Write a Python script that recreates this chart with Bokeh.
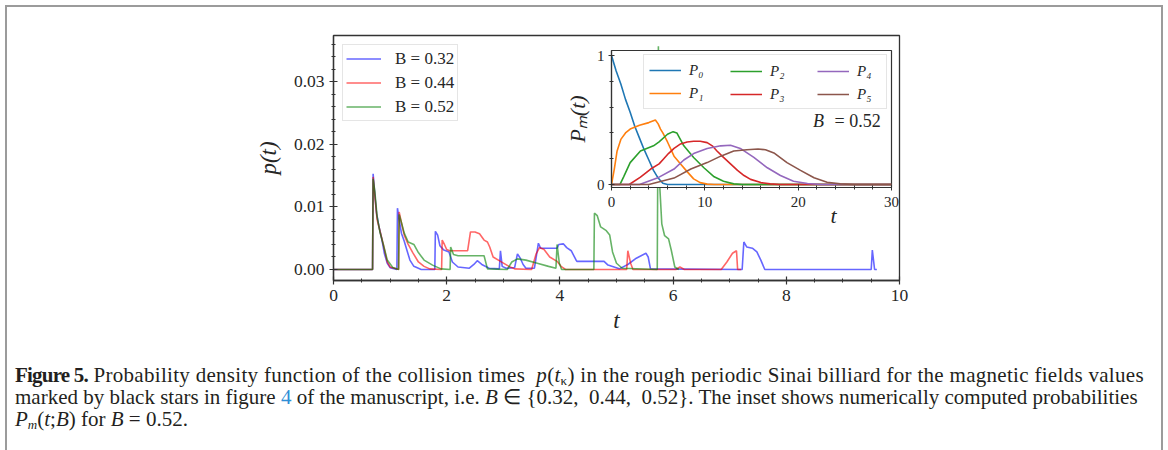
from bokeh.plotting import figure
from bokeh.models import (Range1d, FixedTicker, PrintfTickFormatter, Legend,
                          LegendItem, Label, Div)
from bokeh.layouts import column
from bokeh.embed import file_html
from bokeh.resources import INLINE

FONT = "Liberation Serif"

# ---------------- main panel data: p(t) for three magnetic fields ----------------
t_032 = [0, 0.69, 0.70, 0.73, 0.76, 0.80, 0.85, 0.90, 0.95, 1.00, 1.12, 1.13, 1.16, 1.20,
         1.25, 1.30, 1.35, 1.42, 1.55, 1.79, 1.80, 1.84, 1.88, 1.95, 2.04, 2.10, 2.20,
         2.40, 2.48, 2.54, 2.62, 2.75, 2.93, 2.95, 2.98, 3.05, 3.20, 3.25, 3.30, 3.35,
         3.40, 3.55, 3.62, 3.66, 3.95, 3.98, 4.06, 4.12, 4.20, 4.28, 4.30, 4.78, 4.85,
         5.05, 5.20, 5.35, 5.52, 5.56, 5.60, 7.22, 7.25, 7.30, 7.40, 7.48, 7.55, 7.62,
         9.50, 9.52, 9.56, 9.60]
p_032 = [0, 0, 0.0153, 0.0120, 0.0090, 0.0070, 0.0050, 0.0025, 0.0010, 0.0003, 0.0, 0.0098,
         0.0080, 0.0058, 0.0045, 0.0030, 0.0015, 0.0005, 0.0, 0.0, 0.0061, 0.0055, 0.0038,
         0.0031, 0.0028, 0.0012, 0.0004, 0.0002, 0.0008, 0.0014, 0.0008, 0.0002, 0.0001,
         0.0030, 0.0005, 0.0002, 0.0003, 0.0025, 0.0018, 0.0008, 0.0002, 0.0002, 0.0042,
         0.0034, 0.0034, 0.0040, 0.0041, 0.0035, 0.0030, 0.0016, 0.0013, 0.0013, 0.0007,
         0.0001, 0.0008, 0.0018, 0.0026, 0.0020, 0.0001, 0.0, 0.0044, 0.0036, 0.0034,
         0.0028, 0.0015, 0.0, 0.0, 0.0031, 0.0, 0.0]

t_044 = [0, 0.69, 0.70, 0.73, 0.77, 0.82, 0.88, 0.95, 1.00, 1.15, 1.16, 1.20, 1.25, 1.32,
         1.40, 1.50, 1.60, 1.70, 1.91, 1.92, 1.96, 2.00, 2.05, 2.37, 2.42, 2.50, 2.58,
         2.66, 2.72, 2.76, 2.82, 2.95, 3.10, 3.20, 3.50, 3.58, 3.64, 3.72, 3.82, 3.95,
         4.02, 4.10, 5.18, 5.20, 5.25, 5.29, 6.05, 6.12, 6.20, 6.85, 6.95, 7.05, 7.12,
         7.14, 7.20]
p_044 = [0, 0, 0.0148, 0.0118, 0.0080, 0.0062, 0.0040, 0.0012, 0.0004, 0.0, 0.0092, 0.0075,
         0.0055, 0.0040, 0.0027, 0.0012, 0.0005, 0.0001, 0.0, 0.0047, 0.0040, 0.0032,
         0.0030, 0.0030, 0.0060, 0.0060, 0.0057, 0.0047, 0.0044, 0.0036, 0.0020, 0.0013,
         0.0005, 0.0001, 0.0, 0.0025, 0.0035, 0.0032, 0.0020, 0.0013, 0.0005, 0.0, 0.0,
         0.0030, 0.0010, 0.0, 0.0, 0.0004, 0.0, 0.0, 0.0012, 0.0026, 0.0030, 0.0, 0.0]

t_052 = [0, 0.69, 0.70, 0.73, 0.77, 0.82, 0.88, 0.95, 1.05, 1.15, 1.16, 1.20, 1.25, 1.32,
         1.42, 1.50, 1.60, 1.75, 1.90, 2.06, 2.07, 2.12, 2.20, 2.66, 2.72, 3.07, 3.15,
         3.25, 3.40, 3.60, 3.80, 3.93, 3.95, 3.99, 4.03, 4.60, 4.61, 4.66, 4.72, 4.82,
         4.88, 4.93, 5.00, 5.10, 5.72, 5.74, 5.76, 5.80, 5.85, 5.92, 5.97, 6.03, 6.10]
p_052 = [0, 0, 0.0145, 0.0125, 0.0085, 0.0060, 0.0040, 0.0015, 0.0003, 0.0, 0.0088, 0.0075,
         0.0058, 0.0044, 0.0040, 0.0027, 0.0015, 0.0007, 0.0001, 0.0, 0.0036, 0.0024,
         0.0022, 0.0022, 0.0001, 0.0, 0.0012, 0.0017, 0.0015, 0.0010, 0.0005, 0.0002,
         0.0040, 0.0010, 0.0, 0.0, 0.0090, 0.0086, 0.0068, 0.0062, 0.0055, 0.0028, 0.0010,
         0.0002, 0.0, 0.0357, 0.0140, 0.0073, 0.0054, 0.0049, 0.0030, 0.0004, 0.0]

series_labels = ["B = 0.32", "B = 0.44", "B = 0.52"]
x_ticks = [0, 2, 4, 6, 8, 10]
y_ticks = [0.0, 0.01, 0.02, 0.03]

# ---------------- inset data: P_m(t; B=0.52) ----------------
t_P0 = [0, 0.5, 1, 1.5, 2, 2.5, 3, 3.5, 4, 4.5, 5, 5.5, 6, 30]
v_P0 = [1.0, 0.88, 0.78, 0.66, 0.56, 0.45, 0.36, 0.27, 0.19, 0.11, 0.05, 0.01, 0.0, 0.0]
t_P1 = [0, 0.3, 0.6, 1, 1.5, 2, 3, 4, 4.7, 5.0, 5.25, 5.5, 6, 6.7, 7.4, 8.1, 8.8, 9.5,
        10.25, 11, 30]
v_P1 = [0, 0.12, 0.26, 0.35, 0.40, 0.43, 0.46, 0.48, 0.50, 0.47, 0.43, 0.40, 0.33, 0.22,
        0.16, 0.10, 0.044, 0.015, 0.003, 0, 0]
t_P2 = [0, 0.9, 1.3, 2, 3.1, 4.5, 5.1, 6, 6.6, 7, 7.75, 8.8, 9.9, 11, 12, 13.1, 14, 30]
v_P2 = [0, 0, 0.06, 0.17, 0.26, 0.30, 0.33, 0.39, 0.41, 0.40, 0.30, 0.21, 0.13, 0.06,
        0.026, 0.005, 0, 0]
t_P3 = [0, 1.9, 3.1, 4.2, 5.1, 5.6, 6.1, 6.7, 7.4, 8.1, 8.8, 9.5, 10.25, 10.8, 11.3, 12,
        12.75, 13.5, 14.2, 14.9, 16, 17, 18, 30]
v_P3 = [0, 0, 0.057, 0.12, 0.16, 0.20, 0.24, 0.28, 0.315, 0.33, 0.335, 0.335, 0.325, 0.30,
        0.26, 0.21, 0.16, 0.11, 0.07, 0.04, 0.015, 0.005, 0, 0]
t_P4 = [0, 3, 4.9, 6.7, 7.75, 8.8, 10.25, 11.7, 12.75, 13.8, 15.25, 16.7, 18.1, 19.5, 21,
        22.4, 30]
v_P4 = [0, 0, 0.05, 0.12, 0.19, 0.24, 0.28, 0.30, 0.305, 0.28, 0.21, 0.13, 0.07, 0.026,
        0.008, 0, 0]
t_P5 = [0, 4, 6.7, 8.5, 10.25, 11.7, 13.1, 14.5, 15.7, 16.5, 17.4, 18.8, 20.25, 21.7, 23.1,
        24.5, 26, 30]
v_P5 = [0, 0, 0.05, 0.12, 0.17, 0.22, 0.26, 0.27, 0.275, 0.27, 0.245, 0.17, 0.11, 0.052,
        0.018, 0.005, 0, 0]
inset_labels = ["P₀", "P₁", "P₂", "P₃", "P₄", "P₅"]
inset_x_ticks = [0, 10, 20, 30]
inset_y_ticks = [0, 1]

AX = "#333333"
TXT = "#262626"

# ---------------- main figure ----------------
p = figure(width=1168, height=345, x_range=Range1d(0, 10), y_range=Range1d(-0.00176, 0.0374),
           output_backend="svg", toolbar_location=None,
           min_border_left=333, min_border_right=269, min_border_top=35, min_border_bottom=65)
p.grid.visible = False
p.outline_line_color = AX
p.outline_line_width = 1.3
p.background_fill_color = "white"
p.border_fill_color = "white"

r1 = p.line(t_032, p_032, line_color="#0000ff", line_alpha=0.6, line_width=1.6)
r2 = p.line(t_044, p_044, line_color="#ff0000", line_alpha=0.6, line_width=1.6)
r3 = p.line(t_052, p_052, line_color="#008000", line_alpha=0.6, line_width=1.6)

p.xaxis.ticker = FixedTicker(ticks=x_ticks, minor_ticks=[i * 0.5 for i in range(21)])
p.yaxis.ticker = FixedTicker(ticks=y_ticks, minor_ticks=[i * 0.002 for i in range(19)])
p.yaxis.formatter = PrintfTickFormatter(format="%.2f")
p.xaxis.axis_label = "t"
p.yaxis.axis_label = "p(t)"
for ax in (p.xaxis[0], p.yaxis[0]):
    ax.axis_line_color = AX
    ax.axis_line_width = 1.3
    ax.major_tick_line_color = AX
    ax.minor_tick_line_color = AX
    ax.major_tick_line_width = 1.2
    ax.minor_tick_line_width = 1.0
    ax.major_tick_in = 4
    ax.major_tick_out = 4
    ax.minor_tick_in = 2
    ax.minor_tick_out = 2
    ax.major_label_text_font = FONT
    ax.major_label_text_font_size = "17.5px"
    ax.major_label_text_color = TXT
    ax.axis_label_text_font = FONT
    ax.axis_label_text_font_style = "italic"
    ax.axis_label_text_font_size = "23px"
    ax.axis_label_text_color = TXT
p.xaxis.major_label_standoff = 5
p.xaxis.axis_label_standoff = 4
p.yaxis.major_label_standoff = 5
p.yaxis.axis_label_standoff = 10

leg = Legend(items=[LegendItem(label=series_labels[0], renderers=[r1]),
                    LegendItem(label=series_labels[1], renderers=[r2]),
                    LegendItem(label=series_labels[2], renderers=[r3])],
             location="top_left", margin=9, padding=3, spacing=3,
             label_height=21, glyph_height=21, glyph_width=35, label_standoff=14,
             label_text_font=FONT, label_text_font_size="17px", label_text_color=TXT,
             border_line_color="#cccccc", border_line_width=1,
             background_fill_color="white", background_fill_alpha=0.85)
p.add_layout(leg)

# inset x-axis title sits off-centre (to the right), placed in main-plot data space
p.add_layout(Label(x=8.834, y=0.00864, text="t", text_align="center", text_baseline="middle",
                   text_font=FONT, text_font_style="italic", text_font_size="22px",
                   text_color=TXT))

# ---------------- inset figure: its own root, placed absolutely on the page ----------------
IL, IR, IT, IB = 90, 12, 5, 40
ins = figure(width=IL + 280 + IR, height=IT + 137 + IB, x_range=Range1d(0, 30),
             y_range=Range1d(-0.023, 1.039),
             output_backend="svg", toolbar_location=None, margin=0,
             min_border_left=IL, min_border_right=IR, min_border_top=IT, min_border_bottom=IB,
             styles={"position": "absolute", "left": f"{611 - IL}px", "top": f"{50 - IT}px"})
ins.grid.visible = False
ins.border_fill_color = None
ins.background_fill_color = "white"
ins.outline_line_color = AX
ins.outline_line_width = 1.2

cols = ["#1f77b4", "#ff7f0e", "#2ca02c", "#d62728", "#9467bd", "#8c564b"]
ts = [t_P0, t_P1, t_P2, t_P3, t_P4, t_P5]
vs = [v_P0, v_P1, v_P2, v_P3, v_P4, v_P5]
rs = [ins.line(tt, vv, line_color=c, line_width=1.6) for tt, vv, c in zip(ts, vs, cols)]

ins.xaxis.ticker = FixedTicker(ticks=inset_x_ticks, minor_ticks=list(range(0, 31, 2)))
ins.yaxis.ticker = FixedTicker(ticks=inset_y_ticks, minor_ticks=[0, 0.2, 0.4, 0.6, 0.8, 1.0])
ins.yaxis.axis_label = "Pₘ(t)"
for ax in (ins.xaxis[0], ins.yaxis[0]):
    ax.axis_line_color = AX
    ax.axis_line_width = 1.2
    ax.major_tick_line_color = AX
    ax.minor_tick_line_color = AX
    ax.major_tick_in = 3
    ax.major_tick_out = 3
    ax.minor_tick_in = 2
    ax.minor_tick_out = 2
    ax.major_label_text_font = FONT
    ax.major_label_text_font_size = "15px"
    ax.major_label_text_color = TXT
    ax.axis_label_text_font = FONT
    ax.axis_label_text_font_style = "italic"
    ax.axis_label_text_font_size = "22px"
    ax.axis_label_text_color = TXT
ins.xaxis.major_label_standoff = 6
ins.yaxis.major_label_standoff = 4
ins.yaxis.axis_label_standoff = 4

ins.add_layout(Label(x=21.6, y=0.49, text="B", text_align="left", text_baseline="middle",
                     text_font=FONT, text_font_style="italic", text_font_size="18px",
                     text_color=TXT))
ins.add_layout(Label(x=28.85, y=0.49, text="= 0.52", text_align="right", text_baseline="middle",
                     text_font=FONT, text_font_size="18px", text_color=TXT))

common = dict(padding=5, spacing=3, label_height=20, glyph_height=20, glyph_width=32,
              label_standoff=8, label_text_font=FONT, label_text_font_style="italic",
              label_text_font_size="15px", label_text_color=TXT, margin=0)
legA = Legend(items=[LegendItem(label=inset_labels[0], renderers=[rs[0]]),
                     LegendItem(label=inset_labels[1], renderers=[rs[1]])],
              location=(32, 78), label_width=192, border_line_color="#cccccc",
              background_fill_color="white", background_fill_alpha=0.85, **common)
legB = Legend(items=[LegendItem(label=inset_labels[2], renderers=[rs[2]]),
                     LegendItem(label=inset_labels[3], renderers=[rs[3]])],
              location=(119, 83), border_line_color=None, background_fill_alpha=0, **common)
legC = Legend(items=[LegendItem(label=inset_labels[4], renderers=[rs[4]]),
                     LegendItem(label=inset_labels[5], renderers=[rs[5]])],
              location=(206, 83), border_line_color=None, background_fill_alpha=0, **common)
for lg in (legA, legB, legC):
    ins.add_layout(lg)

# ---------------- caption and frame ----------------
SUB = "font-size:13px; line-height:0; position:relative; top:0.25em; vertical-align:baseline"
cap_html = ('<span style="letter-spacing:0.3px"><b style="letter-spacing:-0.8px">Figure 5.</b> '
            'Probability density function of the collision times '
            '&nbsp;<i>p</i>(<i>t</i><span style="' + SUB + '">κ</span>) in the rough periodic '
            'Sinai billiard for the magnetic fields values</span><br>'
            'marked by black stars in figure <span style="color:#2f8fd6">4</span> of the '
            'manuscript, i.e. <i>B</i> ∈ {0.32, &nbsp;0.44, &nbsp;0.52}. The inset shows '
            'numerically computed probabilities<br>'
            '<i>P<span style="' + SUB + '">m</span></i>(<i>t</i>;<i>B</i>) for <i>B</i> = 0.52.')
caption = Div(text=cap_html, width=1150, height=70, margin=0,
              styles={"position": "absolute", "left": "15px", "top": "364px",
                      "font-family": FONT, "font-size": "21px", "line-height": "22px",
                      "color": "#231f20", "white-space": "nowrap"})

frame_div = Div(text="", width=1158, height=445, margin=0,
                styles={"position": "absolute", "left": "5px", "top": "5px",
                        "height": "445px", "max-height": "none",
                        "box-sizing": "border-box", "border-top": "2px solid #9b9b9b",
                        "border-left": "2px solid #9b9b9b", "border-right": "2px solid #9b9b9b",
                        "pointer-events": "none"})

root = column(p, caption, frame_div, width=1168, height=450, margin=0,
              styles={"position": "relative"})

open("out.html", "w").write(file_html([root, ins], INLINE))
